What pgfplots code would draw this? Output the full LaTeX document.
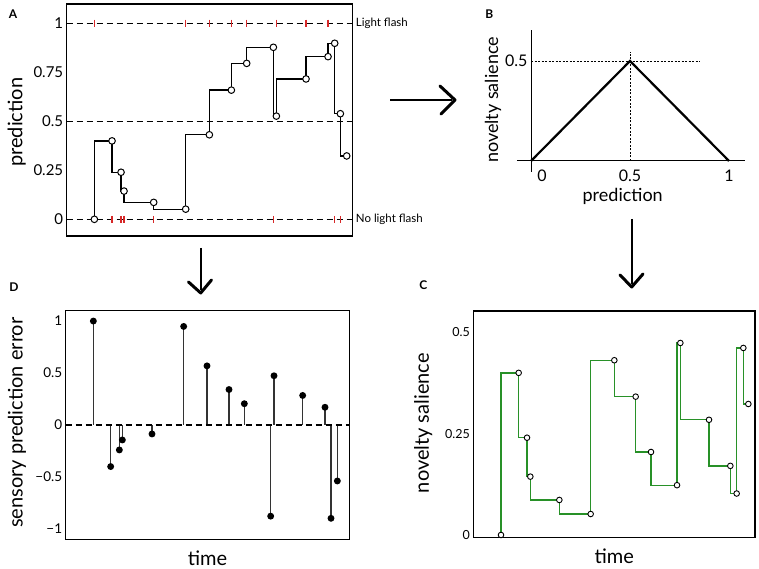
\documentclass[border=0pt]{standalone}
\usepackage{fontspec}
\setmainfont{Lato}
\usepackage{pgfplots}
\pgfplotsset{compat=1.18}
\definecolor{flashred}{RGB}{215,40,40}
\definecolor{salgreen}{RGB}{40,145,40}
\newcommand{\fs}[1]{\fontsize{#1}{#1}\selectfont}
\pgfplotsset{
  panel/.style={scale only axis, anchor=south west, clip=false,
    major tick length=0pt, xtick=\empty,
    /pgf/number format/assume math mode=true,
    axis line style={line width=1.3pt},
    tick label style={font=\fs{15}},
    label style={font=\fs{20}}},
  refline/.style={black, line width=1.3pt, dash pattern=on 6pt off 4pt},
}
\begin{document}
\begin{tikzpicture}[x=1pt,y=1pt]
\path[use as bounding box] (0,0) rectangle (759,569);

% A: prediction over time
\begin{axis}[panel, at={(66.7pt,333pt)}, width=285.7pt, height=232pt,
  xmin=0, xmax=285.7, ymin=-0.085, ymax=1.098,
  ytick={0,0.25,0.5,0.75,1}, yticklabels={0,0.25,0.5,0.75,1},
  ylabel={prediction},
  ylabel style={at={(axis description cs:-0.175,0.49)}, anchor=center}]
\addplot[refline] coordinates {(0,0) (285.7,0)};
\addplot[refline] coordinates {(0,0.5) (285.7,0.5)};
\addplot[refline] coordinates {(0,1) (285.7,1)};
\addplot[only marks, mark=|, mark size=3.5pt, flashred, mark options={line width=1.3pt}]
  coordinates {(27.67,1) (119,1) (142.67,1) (164.67,1) (180,1) (209.67,1) (239.33,1) (261.33,1)};
\addplot[only marks, mark=|, mark size=3.5pt, flashred, mark options={line width=1.3pt}]
  coordinates {(45.33,0) (54.33,0) (57.33,0) (87,0) (206.67,0) (268,0) (273.67,0)};
\addplot[const plot mark right, black, line width=1.3pt, mark=*, mark size=3.3pt,
  mark options={fill=white, draw=black, line width=1pt}] coordinates {
  (27.67,0) (45.33,0.4) (54.33,0.24) (57.33,0.144) (87,0.0864) (119,0.0518)
  (142.67,0.4311) (164.67,0.6587) (180,0.7952) (206.67,0.8771) (209.67,0.5263)
  (239.33,0.7158) (261.33,0.8295) (268,0.8977) (273.67,0.5386) (280,0.3232)};
\node[anchor=west, font=\fs{11.5}] at (axis cs:285.7,1) {Light flash};
\node[anchor=west, font=\fs{11.5}] at (axis cs:285.7,0) {No light flash};
\end{axis}

% B: novelty salience as a function of prediction
\begin{axis}[panel, at={(531pt,408pt)}, width=198pt, height=100pt,
  xmin=0, xmax=1, ymin=0, ymax=0.5, axis line style={draw=none},
  xtick={0,0.5,1}, xticklabels={\hspace*{22pt}0,0.5,1},
  ytick={0.5}, yticklabels={0.5},
  tick label style={font=\fs{16}},
  xticklabel style={yshift=-5pt},
  xlabel={prediction}, ylabel={novelty salience}, label style={font=\fs{18}},
  xlabel style={at={(axis description cs:0.463,-0.357)}, anchor=center},
  ylabel style={at={(axis description cs:-0.192,0.61)}, anchor=center}]
\addplot[black, line width=1pt] coordinates {(-0.072,0) (1.081,0)};
\addplot[black, line width=1pt] coordinates {(0,-0.055) (0,0.655)};
\addplot[black, line width=0.5pt, dash pattern=on 2pt off 1.5pt] coordinates {(0,0.5) (0.854,0.5)};
\addplot[black, line width=0.5pt, dash pattern=on 2pt off 1.5pt] coordinates {(0.5,0) (0.5,0.5465)};
\addplot[black, line width=2.2pt] coordinates {(0,0) (0.5,0.5) (1,0)};
\end{axis}

% D: sensory prediction error
\begin{axis}[panel, at={(65.67pt,29.67pt)}, width=283.67pt, height=228.67pt,
  xmin=0, xmax=283.67, ymin=-1.1, ymax=1.1,
  ytick={-1,-0.5,0,0.5,1}, yticklabels={−1,−0.5,0,0.5,1},
  tick label style={font=\fs{13.5}},
  xlabel={time}, ylabel={sensory prediction error},
  xlabel style={at={(axis description cs:0.5,0)}, anchor=center, yshift=-19pt},
  ylabel style={at={(axis description cs:-0.172,0.51)}, anchor=center}]
\addplot[ycomb, black!80, line width=1.4pt, mark=*, mark size=2.7pt, mark options={black}] coordinates {
  (27.67,1) (45,-0.4) (53.67,-0.24) (56.67,-0.144) (86.33,-0.0864) (118,0.9482)
  (141.33,0.5689) (163.33,0.3413) (178.67,0.2048) (205,-0.8771) (208.33,0.4737)
  (237,0.2842) (259.33,0.1705) (265.33,-0.8977) (271.67,-0.5386)};
\addplot[refline] coordinates {(0,0) (283.67,0)};
\end{axis}

% C: novelty salience over time
\begin{axis}[panel, at={(473.33pt,31.33pt)}, width=281.67pt, height=226.67pt,
  xmin=0, xmax=281.67, ymin=-0.0066, ymax=0.5526,
  ytick={0,0.25,0.5}, yticklabels={0,0.25,0.5},
  tick label style={font=\fs{12.5}},
  xlabel={time}, ylabel={novelty salience},
  xlabel style={at={(axis description cs:0.5,0)}, anchor=center, yshift=-18.6pt},
  ylabel style={at={(axis description cs:-0.178,0.505)}, anchor=center}]
\addplot[const plot mark right, salgreen, line width=1.3pt, mark=*, mark size=2.8pt,
  mark options={fill=white, draw=black, line width=0.9pt}] coordinates {
  (27.67,0) (45.33,0.4) (53.67,0.24) (57,0.144) (86,0.0864) (117.33,0.0518)
  (141,0.4311) (162.33,0.3413) (177.67,0.2048) (203.67,0.1229) (207,0.4737)
  (235.67,0.2842) (257,0.1705) (263.33,0.1023) (270,0.4614) (275,0.3232)};
\end{axis}

% panel letters
\node[font=\bfseries\fs{12}] at (13,555) {A};
\node[font=\bfseries\fs{12}] at (489.3,555) {B};
\node[font=\bfseries\fs{12}] at (14,282.3) {D};
\node[font=\bfseries\fs{12}] at (423.3,284) {C};

% arrows between panels
\draw[line width=2.2pt] (390,469) -- (452,469);
\draw[line width=3pt, line cap=round, line join=round] (440,483) -- (455,469) -- (441,455);
\draw[line width=2.2pt] (200.7,321) -- (200.7,279);
\draw[line width=3pt, line cap=round, line join=round] (188.5,287) -- (200.7,276) -- (211.5,289);
\draw[line width=2.2pt] (631.7,350) -- (631.7,285);
\draw[line width=3pt, line cap=round, line join=round] (620,294) -- (631.7,282) -- (643,295);
\end{tikzpicture}
\end{document}
